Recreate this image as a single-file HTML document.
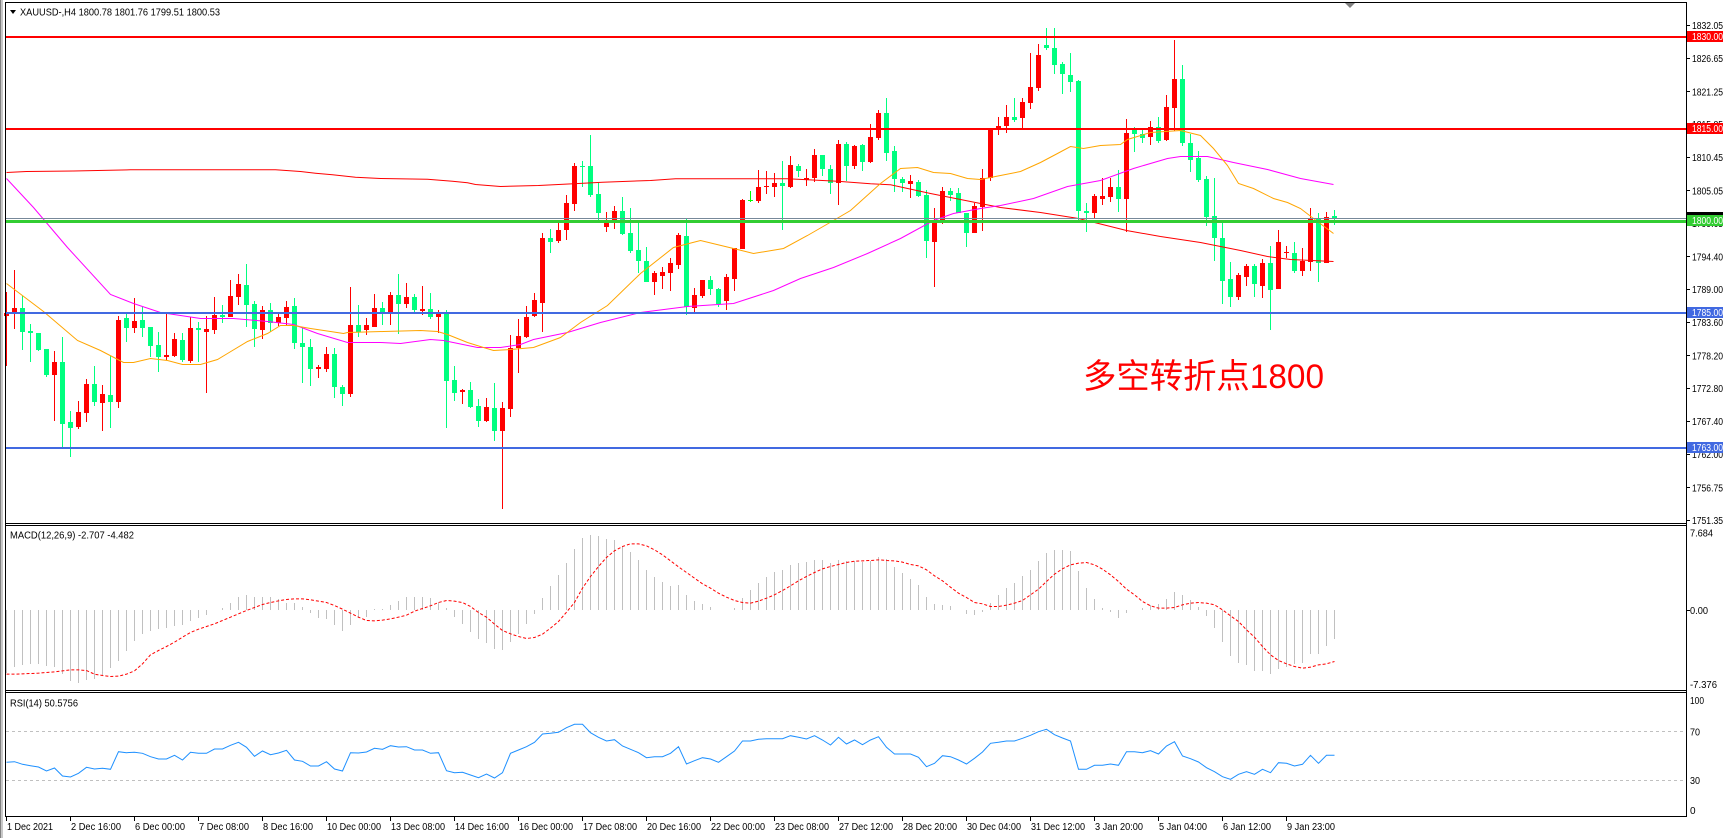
<!DOCTYPE html>
<html><head><meta charset="utf-8">
<style>
html,body{margin:0;padding:0;background:#fff;overflow:hidden;}
svg{display:block;}
text{font-family:"Liberation Sans",Arial,sans-serif;font-size:10.5px;fill:#000;}
.ax text{font-size:10px;}
</style></head><body>
<svg id="s" width="1723" height="838" viewBox="0 0 1723 838" xmlns="http://www.w3.org/2000/svg">
<rect width="1723" height="838" fill="#fff"/>
<rect x="0" y="0" width="1" height="838" fill="#808080"/>
<rect x="1" y="0" width="2" height="838" fill="#c8c8c8"/>
<g id="candles"></g>
<g id="mas" fill="none" stroke-width="1"></g>
<g id="hlines"></g>
<g id="macd"></g>
<g id="rsi"></g>
<g fill="#000">
<rect x="5" y="2" width="1682" height="1"/>
<rect x="5" y="2" width="1" height="815"/>
<rect x="1686" y="2" width="1" height="815"/>
<rect x="5" y="523" width="1682" height="1"/>
<rect x="5" y="525" width="1682" height="1"/>
<rect x="5" y="690" width="1682" height="1"/>
<rect x="5" y="692" width="1682" height="1"/>
<rect x="5" y="816" width="1682" height="1"/>
</g>
<g id="ticks" fill="#000"></g>
<polygon points="10,10 16,10 13,14" fill="#000"/>
<text x="20" y="15.5" textLength="200" lengthAdjust="spacingAndGlyphs">XAUUSD-,H4  1800.78 1801.76 1799.51 1800.53</text>
<polygon points="1345,3 1355,3 1350,8" fill="#808080"/>
<text x="10" y="538.5" textLength="124" lengthAdjust="spacingAndGlyphs">MACD(12,26,9) -2.707 -4.482</text>
<text x="10" y="706.5" textLength="68" lengthAdjust="spacingAndGlyphs">RSI(14) 50.5756</text>
<text x="1083" y="388" textLength="241" lengthAdjust="spacingAndGlyphs" style="font-family:'Liberation Sans','Noto Sans CJK SC',sans-serif;font-size:34px;fill:#ff0000;">多空转折点1800</text>
<g class="ax">
<text x="1692" y="29" textLength="31" lengthAdjust="spacingAndGlyphs">1832.05</text>
<text x="1692" y="62" textLength="31" lengthAdjust="spacingAndGlyphs">1826.65</text>
<text x="1692" y="95.5" textLength="31" lengthAdjust="spacingAndGlyphs">1821.25</text>
<text x="1692" y="128" textLength="31" lengthAdjust="spacingAndGlyphs">1815.85</text>
<text x="1692" y="161" textLength="31" lengthAdjust="spacingAndGlyphs">1810.45</text>
<text x="1692" y="194.5" textLength="31" lengthAdjust="spacingAndGlyphs">1805.05</text>
<text x="1692" y="227" textLength="31" lengthAdjust="spacingAndGlyphs">1799.65</text>
<text x="1692" y="260.5" textLength="31" lengthAdjust="spacingAndGlyphs">1794.40</text>
<text x="1692" y="293" textLength="31" lengthAdjust="spacingAndGlyphs">1789.00</text>
<text x="1692" y="326" textLength="31" lengthAdjust="spacingAndGlyphs">1783.60</text>
<text x="1692" y="359.5" textLength="31" lengthAdjust="spacingAndGlyphs">1778.20</text>
<text x="1692" y="392" textLength="31" lengthAdjust="spacingAndGlyphs">1772.80</text>
<text x="1692" y="425" textLength="31" lengthAdjust="spacingAndGlyphs">1767.40</text>
<text x="1692" y="458" textLength="31" lengthAdjust="spacingAndGlyphs">1762.00</text>
<text x="1692" y="491.5" textLength="31" lengthAdjust="spacingAndGlyphs">1756.75</text>
<text x="1692" y="524" textLength="31" lengthAdjust="spacingAndGlyphs">1751.35</text>
</g>
<g class="ax">
<rect x="1687" y="31" width="36" height="11" fill="#ff0000"/>
<text x="1692" y="40" textLength="31" lengthAdjust="spacingAndGlyphs" style="fill:#fff">1830.00</text>
<rect x="1687" y="123" width="36" height="11" fill="#ff0000"/>
<text x="1692" y="132" textLength="31" lengthAdjust="spacingAndGlyphs" style="fill:#fff">1815.00</text>
<rect x="1687" y="212" width="36" height="11" fill="#000"/>
<rect x="1687" y="215" width="36" height="11" fill="#32cd32"/>
<text x="1692" y="224" textLength="31" lengthAdjust="spacingAndGlyphs" style="fill:#fff">1800.00</text>
<rect x="1687" y="307" width="36" height="11" fill="#4169e1"/>
<text x="1692" y="316" textLength="31" lengthAdjust="spacingAndGlyphs" style="fill:#fff">1785.00</text>
<rect x="1687" y="442" width="36" height="11" fill="#4169e1"/>
<text x="1692" y="451" textLength="31" lengthAdjust="spacingAndGlyphs" style="fill:#fff">1763.00</text>
</g>
<g class="ax">
<text x="1690" y="536.5" textLength="23" lengthAdjust="spacingAndGlyphs">7.684</text>
<text x="1690" y="614" textLength="18" lengthAdjust="spacingAndGlyphs">0.00</text>
<text x="1690" y="688" textLength="27" lengthAdjust="spacingAndGlyphs">-7.376</text>
<text x="1690" y="704" textLength="14" lengthAdjust="spacingAndGlyphs">100</text>
<text x="1690" y="735.5" textLength="10" lengthAdjust="spacingAndGlyphs">70</text>
<text x="1690" y="784" textLength="10" lengthAdjust="spacingAndGlyphs">30</text>
<text x="1690" y="814">0</text>
</g>
<g class="ax">
<text x="7" y="830" textLength="46" lengthAdjust="spacingAndGlyphs">1 Dec 2021</text>
<text x="71" y="830" textLength="50" lengthAdjust="spacingAndGlyphs">2 Dec 16:00</text>
<text x="135" y="830" textLength="50" lengthAdjust="spacingAndGlyphs">6 Dec 00:00</text>
<text x="199" y="830" textLength="50" lengthAdjust="spacingAndGlyphs">7 Dec 08:00</text>
<text x="263" y="830" textLength="50" lengthAdjust="spacingAndGlyphs">8 Dec 16:00</text>
<text x="327" y="830" textLength="54" lengthAdjust="spacingAndGlyphs">10 Dec 00:00</text>
<text x="391" y="830" textLength="54" lengthAdjust="spacingAndGlyphs">13 Dec 08:00</text>
<text x="455" y="830" textLength="54" lengthAdjust="spacingAndGlyphs">14 Dec 16:00</text>
<text x="519" y="830" textLength="54" lengthAdjust="spacingAndGlyphs">16 Dec 00:00</text>
<text x="583" y="830" textLength="54" lengthAdjust="spacingAndGlyphs">17 Dec 08:00</text>
<text x="647" y="830" textLength="54" lengthAdjust="spacingAndGlyphs">20 Dec 16:00</text>
<text x="711" y="830" textLength="54" lengthAdjust="spacingAndGlyphs">22 Dec 00:00</text>
<text x="775" y="830" textLength="54" lengthAdjust="spacingAndGlyphs">23 Dec 08:00</text>
<text x="839" y="830" textLength="54" lengthAdjust="spacingAndGlyphs">27 Dec 12:00</text>
<text x="903" y="830" textLength="54" lengthAdjust="spacingAndGlyphs">28 Dec 20:00</text>
<text x="967" y="830" textLength="54" lengthAdjust="spacingAndGlyphs">30 Dec 04:00</text>
<text x="1031" y="830" textLength="54" lengthAdjust="spacingAndGlyphs">31 Dec 12:00</text>
<text x="1095" y="830" textLength="48" lengthAdjust="spacingAndGlyphs">3 Jan 20:00</text>
<text x="1159" y="830" textLength="48" lengthAdjust="spacingAndGlyphs">5 Jan 04:00</text>
<text x="1223" y="830" textLength="48" lengthAdjust="spacingAndGlyphs">6 Jan 12:00</text>
<text x="1287" y="830" textLength="48" lengthAdjust="spacingAndGlyphs">9 Jan 23:00</text>
</g>
</svg>
<script>
(function(){
var NS='http://www.w3.org/2000/svg';
function el(p,tag,a){var e=document.createElementNS(NS,tag);for(var k in a)e.setAttribute(k,a[k]);p.appendChild(e);return e;}
var C=[
[1,291.7,313.3,315.7,366],[1,270,308,313.3,329],[0,295.7,308,331.7,350],[0,324,331,333.3,361.7],[0,332.7,333,350,351],
[0,349,349,375,376.7],[1,351,361.7,375,420.7],[0,337.3,361.7,424,446.7],[0,411,422,427.7,456.7],[1,401,412,426.7,429.3],
[1,379.3,384,412.7,421.7],[0,366,384,401.7,406],[1,385.3,394,403.3,430.7],[0,356,395,401.7,428.3],[1,315.7,320,401.7,407.7],
[0,313.3,317.7,327.7,341.7],[1,297.7,321,327.7,332.7],[0,306.7,320,327.7,336.7],[0,326.7,326.7,345.7,357.3],[0,332,345,356.7,371.7],
[1,313.3,355,356.7,360],[1,332.7,339,355.7,357.3],[0,332.7,340,360,361.7],[1,316.7,328,360.7,363.3],[0,322,328,330.3,361.7],
[1,315.7,329,331.7,393.3],[1,297,314.7,330,333.7],[0,305,314.7,316.7,323.3],[1,280,295.7,316.7,316.7],[1,274,284,296.7,305],
[0,264,285,305,327.3],[0,301,304,329.3,347.3],[1,305.7,310,330,338.7],[0,303.3,310,323.3,331.7],[1,311.7,316.7,323.3,325.7],
[1,301,306.7,317.7,325],[0,297.7,305.7,343.3,348.7],[0,326.7,342.7,347.3,383.3],[0,339,347,369.3,385.7],[1,365,366.7,369.3,377.7],
[1,346.7,354,369,372.3],[0,348,353.7,387.3,398.3],[0,385.3,386.7,394,405.7],[1,286.7,324.7,394,396.7],[0,305,324.7,331.7,336.7],
[1,317.7,324.7,330,334.7],[1,294,307.7,326.7,326.7],[0,301.7,307.7,312.3,325],[1,291.7,295,312.3,324.7],[0,274,295,303.7,334.3],
[1,283,296.7,304,307.7],[0,294,296.7,309.7,314.3],[1,286,309,311,314.7],[0,293.3,309,316.7,319.3],[1,310,314.3,316.7,332.7],
[0,310,314.3,380.7,428.3],[0,366,380,393.3,400.7],[1,388.7,390.3,392.3,404.3],[0,382,390,406.7,408.3],[0,399,406,420.7,426.7],
[1,398,407,420.7,421.7],[0,383.3,407.7,430.7,441],[1,401.7,407.7,430.7,509],[1,335,348.3,409.3,416.7],[1,319,336,347.7,372.7],
[1,305.7,316.7,336.7,338.3],[1,292.7,300,315.7,316.7],[1,233.3,237.7,302.7,331.7],[0,229,237.7,241.7,253.3],[1,222.7,230,240.7,242.7],
[1,195,202.7,230,240],[1,162.7,165.7,203.7,210.7],[0,160.7,165.7,167.3,186.7],[0,135,165.7,194.7,196.7],[0,182.3,193.7,212.7,223.3],
[1,211.7,221.7,226.7,231.7],[1,205.7,211,220,229],[0,197,211,233.7,235],[0,208,232.7,250.7,253.3],[0,220,250,260.7,273.3],
[0,247.3,261,281.7,281.7],[1,271,273.3,281.7,295],[1,266.7,272,276,288.7],[1,257.7,263.3,272.7,290.7],[1,233.3,235,265,269.3],
[0,219,236,307.3,315],[1,288.3,295,308.3,311.7],[1,280,280,296,298.3],[0,276,280,289.3,295],[0,287.7,288.7,303.7,307.3],
[1,274,277.3,300.7,310],[1,248.3,248.3,278.7,290.7],[1,199,200,249,249],[2,190.7,200,200.7,202.3],[1,170,187,200.7,203.3],
[1,171,185.7,187.3,194],[1,172.7,183,186.7,196.7],[0,160.7,183,185.7,230],[1,156,165,186.7,187.7],[0,164,165.7,170.7,176.7],
[1,169,177.7,180.3,185.7],[1,148.7,155,177.7,181.7],[0,155,155,169,175.7],[0,165.3,169,183.3,194],[1,140,144,183.3,205],
[0,141.7,144,165.7,180.7],[1,145,145.7,165.7,169],[0,144,145,161.7,170.7],[1,124,136.7,161.7,163.3],[1,110,113,137.7,140],
[0,98,113,152.7,160.7],[0,145.7,151,179.3,191.7],[0,176.7,179,182.7,191.7],[1,175.3,181.3,183.7,197.7],[0,180,182,195.7,196.7],
[0,190,195,240.7,257.7],[1,208.3,220,241.7,286.7],[1,186.7,191,223.3,224],[0,187.7,191,195,200.7],[0,188.3,193.3,213.3,213.3],
[0,212.7,212.7,232.7,246.7],[1,202.7,206,232.7,233.3],[1,169.3,178.3,206.7,230.7],[1,128.3,129,178.3,180.7],[1,117.3,126,128.3,135],
[1,105,117.3,126,132.7],[0,98,117.3,120,121.7],[1,98.3,102.3,117.7,127.7],[1,53,87,102.7,108.7],[1,44.3,55,87.7,90.7],
[0,28.3,45,47.7,50],[0,28.3,47.7,65,73.7],[0,61.7,64,73.7,93.7],[0,53,75,81.7,91.7],[0,80,81,210.7,223.3],
[0,203.3,211,213,232.3],[1,194.3,196,213,217.7],[1,178,196,198.7,205],[1,178,187,197,201.7],[0,170,187,198.7,211.7],
[1,119,133,198.7,231.7],[0,127.3,130,134,151.7],[0,128.3,134,137.7,143.3],[1,121,127,136.7,145],[0,116.7,127,140.7,143.3],
[1,95,107,140,140.7],[1,40,79,107.7,130.7],[0,65,79,143.3,146],[0,134.3,143,159.7,171.7],[0,151,158.3,180,181.7],
[0,176.3,179,216.7,225.7],[0,178.3,216,238.3,261],[0,220,238.3,280.7,304],[0,261.7,279,296.7,306.7],[1,272.7,275,296.7,300],
[1,264.3,266,276.7,285.7],[0,264.3,266,284.3,296.7],[1,259.3,263,285.7,297.7],[0,246,263,290,330],[1,230,242.3,289,289],
[1,246,252.3,253,258.3],[0,242.3,253.3,271,273.3],[1,248.3,261,271,275.7],[1,207.7,218.3,261.7,271],[0,213.3,218.3,263.3,281.7],
[1,211.7,217.3,262.7,263.3],[0,210,216,218.7,225]
];
var gC=document.getElementById('candles');
C.forEach(function(c,k){
  var cx=6+8*k;var col=c[0]==1?'#ff0000':(c[0]==2?'#00ff00':'#00ff7f');
  var wt=Math.round(c[1]),wb=Math.round(c[4]);
  el(gC,'rect',{x:cx,y:wt,width:1,height:Math.max(1,wb-wt),fill:col});
  var bt=Math.round(c[2]),bb=Math.round(c[3]);
  el(gC,'rect',{x:cx-2,y:bt,width:5,height:Math.max(1,bb-bt),fill:col});
});
function pl(p,pts,attrs){var s=pts.map(function(q){return (q[0]+0.5)+','+(q[1]+0.5);}).join(' ');attrs.points=s;attrs.fill='none';return el(p,'polyline',attrs);}
var gM=document.getElementById('mas');
var RED=[[6,172],[26,171],[73,170.5],[130,169.3],[275,169.3],[300,171],[315,172.7],[332,174.3],[355,176.7],[380,178],[427,178.7],[452,180.7],[467,182.3],[475,184],[500,186],[538,185],[578,183],[602,181.7],[650,180],[675,178.3],[787,178.3],[837,180.7],[870,183.3],[890,184.3],[930,193],[980,203],[1000,207],[1040,212],[1078,218],[1126,230],[1160,236],[1200,242],[1240,250],[1267,256],[1290,259],[1333,261]];
var ORG=[[6,283],[43,311],[77,340],[100,350],[123,362],[133,362],[150,358],[167,360],[182,364],[200,364],[217,359],[227,353],[247,341],[267,333],[280,325],[293,325],[310,328],[330,331],[343,333],[347,332],[383,331],[420,330],[437,331],[447,334],[467,342],[483,347],[493,350],[510,349],[533,347],[560,337],[580,322],[607,305],[640,273],[673,247],[700,240],[733,248],[753,253],[783,248],[807,235],[833,220],[850,210],[880,183],[900,168],[917,167],[933,172],[950,173],[967,178],[980,179],[1000,175],[1020,171],[1040,162],[1057,153],[1070,146],[1083,148],[1100,145],[1120,144],[1127,139],[1150,132],[1180,130],[1200,135],[1213,148],[1227,165],[1238,183],[1253,188],[1273,198],[1287,202],[1300,208],[1313,218],[1333,233]];
var MAG=[[6,178],[33,207],[67,247],[110,294],[133,303],[160,312],[200,318],[233,318],[267,321],[293,324],[317,333],[347,342],[380,342],[400,343],[430,339],[443,340],[477,347],[500,347],[520,344],[533,339],[567,332],[600,322],[640,312],[687,306],[733,303],[773,290],[800,278],[833,267],[867,253],[900,238],[933,220],[953,213],[980,208],[1000,205],[1033,198],[1067,186],[1100,180],[1133,168],[1167,158],[1180,156],[1207,156],[1233,162],[1267,169],[1300,178],[1333,184]];
pl(gM,RED,{stroke:'#ff0000','stroke-width':1});
pl(gM,MAG,{stroke:'#ff00ff','stroke-width':1});
pl(gM,ORG,{stroke:'#ffa500','stroke-width':1});
var gH=document.getElementById('hlines');
el(gH,'rect',{x:6,y:36,width:1680,height:2,fill:'#ff0000'});
el(gH,'rect',{x:6,y:128,width:1680,height:2,fill:'#ff0000'});
el(gH,'rect',{x:6,y:218,width:1680,height:1,fill:'#778899'});
el(gH,'rect',{x:6,y:220,width:1680,height:3,fill:'#32cd32'});
el(gH,'rect',{x:6,y:312,width:1680,height:2,fill:'#4169e1'});
el(gH,'rect',{x:6,y:447,width:1680,height:2,fill:'#4169e1'});
var H=[440,422,416,413,413,420,423,445,465,470,462,458,448,425,405,375,345,323,315,310,305,300,298,285,275,268,253,245,232,212,207,213,213,213,220,230,232,243,262,275,280,297,315,297,275,272,250,248,238,225,213,213,213,216,228,245,272,295,318,338,350,368,372,348,323,293,263,215,180,147,110,68,36,27,30,38,42,60,77,101,132,153,168,180,177,207,225,234,243,251,251,245,215,192,170,152,137,131,117,110,107,101,101,110,101,105,105,108,105,92,100,122,140,158,177,212,233,237,240,251,263,266,257,230,207,185,170,150,132,105,80,72,72,75,135,185,218,245,258,275,262,253,245,238,233,218,198,207,222,242,270,305,347,390,410,418,435,435,443,428,422,415,410,383,383,360,340];
var S=[443,443,442,441,440,438,436,433,430,430,432,443,447,450,449,443,433,412,385,372,360,347,332,318,308,300,292,282,272,262,252,243,234,228,223,219,217,217,220,224,228,237,248,260,272,282,283,281,277,272,266,254,246,238,228,222,224,228,240,258,272,293,312,322,330,336,333,323,305,285,257,228,185,150,120,93,73,60,52,52,58,70,85,103,121,138,155,172,185,200,212,222,228,230,224,215,205,192,178,163,150,138,127,120,114,108,104,103,102,100,102,103,107,114,118,130,148,163,182,200,213,228,232,240,240,236,230,222,205,188,165,143,127,115,110,108,115,128,145,165,188,205,225,238,245,245,243,235,230,228,230,235,250,268,285,310,332,360,385,402,412,420,425,422,415,412,405];
var gMa=document.getElementById('macd');
var y0=610;
H.forEach(function(z,k){var cx=6+8*k;var y=Math.round(526+z/3);var a=Math.min(y,y0),b=Math.max(y,y0);if(b-a>0)el(gMa,'rect',{x:cx,y:a,width:1,height:b-a,fill:'#c0c0c0'});});
var sp=S.map(function(z,k){return [6+8*k,526+z/3];});
pl(gMa,sp,{stroke:'#ff0000','stroke-width':1,'stroke-dasharray':'3,2'});
var R=[762.3,761.7,764.3,765.7,767,771,768,776,777,773.3,767.3,769,768.3,769.3,751.7,752.7,752.3,753.3,756.7,759,759,755.3,760,752.3,753.3,753.3,749,749,745.3,742.3,747.3,756.3,751,754.7,753,750.3,760,761.3,766,766,761.7,769,771,752.7,753,752,748.3,749.3,745.7,747,746.7,750,750,753.3,752.7,770.7,772.7,772.3,775,777.7,774,778,772.7,753.3,750,746.7,742.3,734,733.3,732.3,727.7,724.3,724.3,732.7,737.3,741,739.7,746,749.3,752.7,757.7,756.7,756.7,753.3,746.7,764,760.7,757.7,759,762.3,756.7,751,741,741,739.3,738.7,738.7,738.7,735.7,737.3,739,735.7,740,745,737.3,744,740,744.7,740,736.7,747.3,754,754,754,757.3,766.7,763.3,755.7,756.7,760,764,758.3,752,743.3,742.3,741,741,738.3,735.3,731.7,729.3,734.7,738,741,769.3,769.3,765.3,765.3,764,765.3,751.7,751.7,752.7,750.7,754,746,741.7,756,758.7,762,767.7,771.7,776.7,779.3,774.3,771.7,774.3,769.3,772.7,762.7,763.3,766,764.3,755.3,763.3,755.3,755.3];
var gR=document.getElementById('rsi');
el(gR,'line',{x1:6,y1:731.5,x2:1686,y2:731.5,stroke:'#c0c0c0','stroke-width':1,'stroke-dasharray':'3,3'});
el(gR,'line',{x1:6,y1:780.5,x2:1686,y2:780.5,stroke:'#c0c0c0','stroke-width':1,'stroke-dasharray':'3,3'});
pl(gR,R.map(function(y,k){return [6+8*k,y-0.5];}),{stroke:'#1e90ff','stroke-width':1});
var gT=document.getElementById('ticks');
for(var j=0;j<21;j++){el(gT,'rect',{x:6+64*j,y:817,width:1,height:4});}
[25,58,91,124,157,190,223,256,289,322,355,388,421,454,487,520,610].forEach(function(y){el(gT,'rect',{x:1687,y:y,width:3,height:1});});
})();
</script>
</body></html>
